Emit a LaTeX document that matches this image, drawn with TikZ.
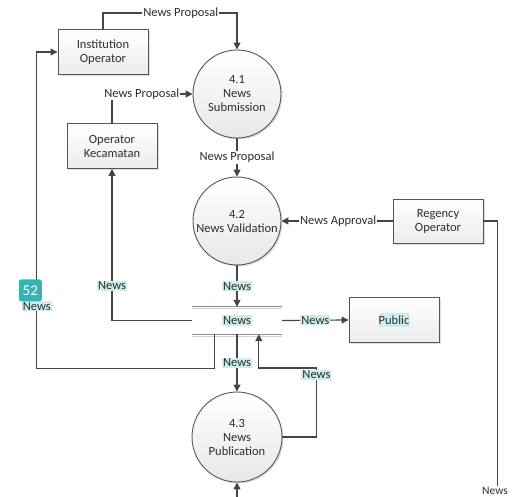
\documentclass[tikz,border=0pt]{standalone}
\usepackage{fontspec}
\setmainfont{Carlito}
\usetikzlibrary{arrows.meta,shadows}
\definecolor{lineclr}{HTML}{454545}
\definecolor{bordclr}{HTML}{555555}
\definecolor{txtclr}{HTML}{2E2E2E}
\definecolor{hlclr}{HTML}{CBEDED}
\definecolor{badgeclr}{HTML}{33B5B5}
\definecolor{storeclr}{HTML}{8C8C8C}
\tikzset{
  base/.style={font=\fontsize{12.5}{14}\selectfont, text=txtclr},
  proc/.style={base, circle, draw=bordclr, line width=0.9pt, minimum size=88pt, inner sep=0pt, align=center,
     top color=white, bottom color=gray!18, drop shadow={opacity=0.25, shadow xshift=1.5pt, shadow yshift=-1.5pt}},
  ext/.style={base, rectangle, draw=bordclr, line width=0.9pt, minimum width=90pt, minimum height=45pt, align=center,
     top color=white, bottom color=gray!15, drop shadow={opacity=0.25, shadow xshift=1.5pt, shadow yshift=-1.5pt}},
  storebox/.style={base, rectangle, minimum width=90pt, minimum height=27pt, inner sep=0pt},
  flow/.style={draw=lineclr, line width=1.2pt, -{Triangle[length=7pt,width=7pt]}},
  plain/.style={draw=lineclr, line width=1.2pt},
  lbl/.style={base, fill=white, inner sep=1pt},
  tlbl/.style={base, fill=hlclr, inner sep=1pt},
  badge/.style={fill=badgeclr, rounded corners=2.5pt, text=white, font=\fontsize{15}{16}\selectfont,
     minimum width=23pt, minimum height=22pt, inner sep=0pt},
}
\begin{document}
\begin{tikzpicture}[x=1pt,y=-1pt]
\useasboundingbox (0,0) rectangle (512,496);

% nodes
\node[ext] (inst) at (103,52) {Institution\\Operator};
\node[ext] (kec) at (112,146) {Operator\\Kecamatan};
\node[ext, minimum height=44pt] (reg) at (438,221) {Regency\\Operator};
\node[ext] (pub) at (394,320) {\colorbox{hlclr}{\hspace{-3pt}Public\hspace{-3pt}}};
\node[proc] (p1) at (237,94) {4.1\\News\\Submission};
\node[proc] (p2) at (237,221) {4.2\\News Validation};
\node[proc, minimum size=90pt] (p3) at (237,437) {4.3\\News\\Publication};
\node[storebox] (store) at (237,320.5) {};

% data store lines
\draw[gray!35, line width=1.3pt] ([yshift=-2pt]store.north west) -- ([yshift=-2pt]store.north east);
\draw[storeclr, line width=1.3pt] (store.north west) -- (store.north east);
\draw[gray!35, line width=1.3pt] ([yshift=-2pt]store.south west) -- ([yshift=-2pt]store.south east);
\draw[storeclr, line width=1.3pt] (store.south west) -- (store.south east);
\node[tlbl] (storelbl) at (store.center) {News};

\coordinate (regend) at (497,486);
\coordinate (botin) at (237,500);

% connectors
\draw[flow] (inst.north) -- ++(0,-16) -| (p1.north) node[lbl, pos=0.29] {News Proposal};
\draw[flow] (kec.north) |- (p1.west) node[lbl, pos=0.685] {News Proposal};
\draw[flow] (p1.south) -- (p2.north) node[lbl, midway] {News Proposal};
\draw[flow] (reg.west) -- (p2.east) node[lbl, pos=0.49] {News Approval};
\draw[plain] (reg.east) -- ++(14,0) |- (regend);
\node[lbl, anchor=south, inner sep=0.5pt, font=\fontsize{11.5}{13}\selectfont] (newsbr) at (495,495) {News};
\draw[flow] (p2.south) -- (store.north) node[tlbl, midway] {News};
\draw[flow] (store.east) -- (pub.west) node[tlbl, midway] {News};
\draw[flow] (store.west) -| (kec.south) node[tlbl, pos=0.615] {News};
\draw[flow] ([xshift=23pt]store.south west) -- ++(0,34) -- ++(-178,0) |- (inst.west)
   node[tlbl, pos=0.098] (newsleft) {News};
\node[badge, anchor=south] (badge52) at ([xshift=-6.5pt,yshift=-1pt]newsleft.north) {52};
\draw[flow] (store.south) -- (p3.north) node[tlbl, midway] {News};
\draw[flow] (p3.east) -- ++(34,0) -- ++(0,-69) node[tlbl, pos=0.9] {News} -| ([xshift=67pt]store.south west);
\draw[flow] (botin) -- (p3.south);
\end{tikzpicture}
\end{document}
